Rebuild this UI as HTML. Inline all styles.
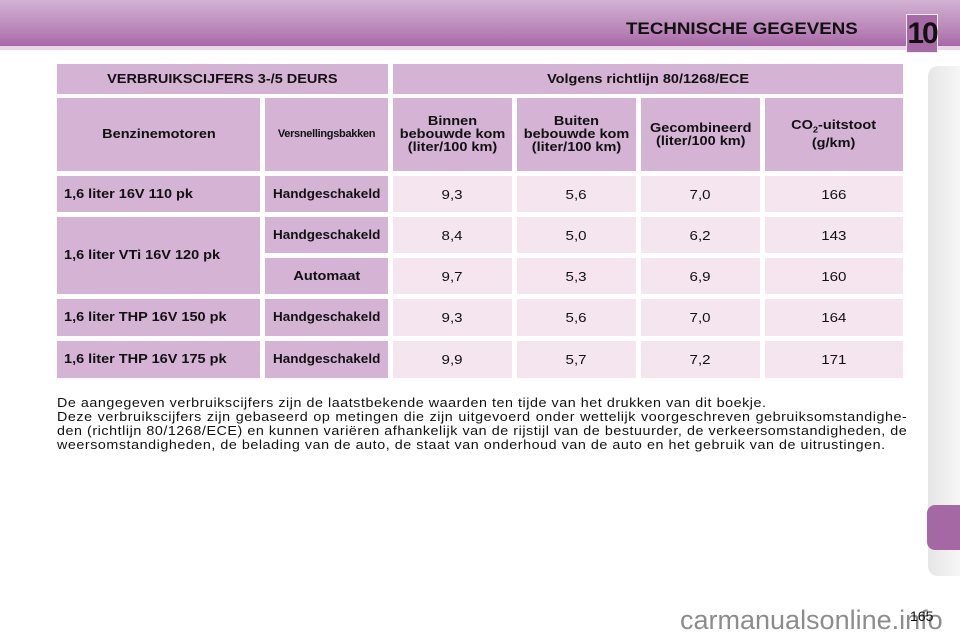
<!DOCTYPE html>
<html><head><meta charset="utf-8"><style>
body{margin:0;width:960px;height:640px;background:#fff;position:relative;overflow:hidden;font-family:"Liberation Sans",sans-serif;}
.c{position:absolute;display:flex;align-items:center;justify-content:center;text-align:center;font-size:12.5px;color:#111;box-sizing:border-box;line-height:13px}
.c>span{display:inline-block;transform:scaleX(1.16)}
.l>span{transform-origin:left center}
.h{background:#d4b3d4;font-weight:bold}
.d{background:#f4e5ef;font-size:13px}
.l{justify-content:flex-start;padding-left:7px}
.g>span{transform:scaleX(1.08)}
</style></head><body>
<div style="position:absolute;left:0;top:0;width:960px;height:46px;background:linear-gradient(#d2b2d2,#b782b6 70%,#a867a7)"></div>
<div style="position:absolute;left:0;top:46px;width:960px;height:4px;background:#e8d8e8"></div>
<div style="position:absolute;left:626px;top:19px;font-weight:bold;font-size:17px;color:#111;transform:scaleX(1.1);transform-origin:left">TECHNISCHE GEGEVENS</div>
<div style="position:absolute;left:906px;top:14px;width:30px;height:37px;background:#a86aa6;border:1px solid #eee;font-weight:bold;font-size:30px;color:#111;line-height:37px;text-align:center;letter-spacing:-2px">10</div>
<div style="position:absolute;left:928px;top:66px;width:32px;height:510px;background:linear-gradient(90deg,#e6e6e6,#f6f6f6);border-radius:10px 0 0 10px"></div>
<div style="position:absolute;left:927px;top:505px;width:33px;height:45px;background:#a668a5;border-radius:8px 0 0 8px"></div>

<div class="c h" style="left:57px;top:64px;width:331px;height:30px"><span>VERBRUIKSCIJFERS 3-/5 DEURS</span></div>
<div class="c h" style="left:393px;top:64px;width:510px;height:30px"><span>Volgens richtlijn 80/1268/ECE</span></div>

<div class="c h" style="left:57px;top:98px;width:203px;height:73px"><span>Benzinemotoren</span></div>
<div class="c h" style="left:265px;top:98px;width:123px;height:73px;font-size:11px;letter-spacing:-0.3px">Versnellingsbakken</div>
<div class="c h" style="left:393px;top:98px;width:119px;height:73px"><span>Binnen<br>bebouwde kom<br>(liter/100 km)</span></div>
<div class="c h" style="left:517px;top:98px;width:119px;height:73px"><span>Buiten<br>bebouwde kom<br>(liter/100 km)</span></div>
<div class="c h" style="left:641px;top:98px;width:119px;height:73px"><span>Gecombineerd<br>(liter/100 km)</span></div>
<div class="c h" style="left:765px;top:98px;width:138px;height:73px"><span>CO<sub style="font-size:8px">2</sub>-uitstoot<br>(g/km)</span></div>

<div class="c h l" style="left:57px;top:176px;width:203px;height:36px"><span>1,6 liter 16V 110 pk</span></div>
<div class="c h g" style="left:265px;top:176px;width:123px;height:36px"><span>Handgeschakeld</span></div>
<div class="c d" style="left:393px;top:176px;width:119px;height:36px"><span>9,3</span></div>
<div class="c d" style="left:517px;top:176px;width:119px;height:36px"><span>5,6</span></div>
<div class="c d" style="left:641px;top:176px;width:119px;height:36px"><span>7,0</span></div>
<div class="c d" style="left:765px;top:176px;width:138px;height:36px"><span>166</span></div>

<div class="c h l" style="left:57px;top:217px;width:203px;height:77px"><span>1,6 liter VTi 16V 120 pk</span></div>
<div class="c h g" style="left:265px;top:217px;width:123px;height:36px"><span>Handgeschakeld</span></div>
<div class="c d" style="left:393px;top:217px;width:119px;height:36px"><span>8,4</span></div>
<div class="c d" style="left:517px;top:217px;width:119px;height:36px"><span>5,0</span></div>
<div class="c d" style="left:641px;top:217px;width:119px;height:36px"><span>6,2</span></div>
<div class="c d" style="left:765px;top:217px;width:138px;height:36px"><span>143</span></div>

<div class="c h" style="left:265px;top:258px;width:123px;height:36px"><span>Automaat</span></div>
<div class="c d" style="left:393px;top:258px;width:119px;height:36px"><span>9,7</span></div>
<div class="c d" style="left:517px;top:258px;width:119px;height:36px"><span>5,3</span></div>
<div class="c d" style="left:641px;top:258px;width:119px;height:36px"><span>6,9</span></div>
<div class="c d" style="left:765px;top:258px;width:138px;height:36px"><span>160</span></div>

<div class="c h l" style="left:57px;top:299px;width:203px;height:37px"><span>1,6 liter THP 16V 150 pk</span></div>
<div class="c h g" style="left:265px;top:299px;width:123px;height:37px"><span>Handgeschakeld</span></div>
<div class="c d" style="left:393px;top:299px;width:119px;height:37px"><span>9,3</span></div>
<div class="c d" style="left:517px;top:299px;width:119px;height:37px"><span>5,6</span></div>
<div class="c d" style="left:641px;top:299px;width:119px;height:37px"><span>7,0</span></div>
<div class="c d" style="left:765px;top:299px;width:138px;height:37px"><span>164</span></div>

<div class="c h l" style="left:57px;top:341px;width:203px;height:37px"><span>1,6 liter THP 16V 175 pk</span></div>
<div class="c h g" style="left:265px;top:341px;width:123px;height:37px"><span>Handgeschakeld</span></div>
<div class="c d" style="left:393px;top:341px;width:119px;height:37px"><span>9,9</span></div>
<div class="c d" style="left:517px;top:341px;width:119px;height:37px"><span>5,7</span></div>
<div class="c d" style="left:641px;top:341px;width:119px;height:37px"><span>7,2</span></div>
<div class="c d" style="left:765px;top:341px;width:138px;height:37px"><span>171</span></div>

<div style="position:absolute;left:57px;top:396px;width:773px;font-size:13px;letter-spacing:0.5px;line-height:14px;color:#111;text-align:justify;transform:scaleX(1.1);transform-origin:left top">De aangegeven verbruikscijfers zijn de laatstbekende waarden ten tijde van het drukken van dit boekje.<br><span style="display:block;text-align-last:justify">Deze verbruikscijfers zijn gebaseerd op metingen die zijn uitgevoerd onder wettelijk voorgeschreven gebruiksomstandighe-</span>den (richtlijn 80/1268/ECE) en kunnen variëren afhankelijk van de rijstijl van de bestuurder, de verkeersomstandigheden, de weersomstandigheden, de belading van de auto, de staat van onderhoud van de auto en het gebruik van de uitrustingen.</div>
<div style="position:absolute;left:680px;top:605px;font-size:27px;color:#8c8c8c">carmanualsonline.info</div>
<div style="position:absolute;left:910px;top:608px;font-size:14px;color:#111">165</div>
</body></html>
